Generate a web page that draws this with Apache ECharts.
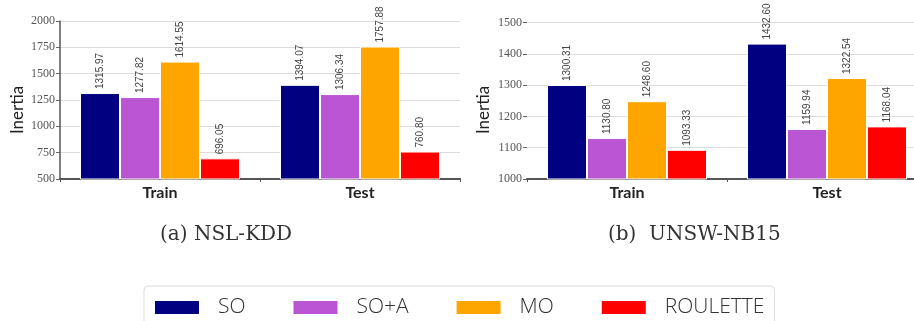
<!DOCTYPE html>
<html>
<head>
<meta charset="utf-8">
<script src="https://cdn.jsdelivr.net/npm/echarts@6/dist/echarts.min.js"></script>
<style>
  html, body { margin: 0; padding: 0; background: #fff; }
  #chart { width: 914px; height: 321px; }
</style>
</head>
<body>
<div id="chart"></div>
<script>
// Mean inertia of the clustering strategies on two intrusion-detection datasets
const categories = ['Train', 'Test'];
const seriesNames = ['SO', 'SO+A', 'MO', 'ROULETTE'];
const seriesColors = ['#000080', '#BA55D3', '#FFA500', '#FF0000'];

// (a) NSL-KDD
const nslSO = [1315.97, 1394.07];
const nslSOA = [1277.82, 1306.34];
const nslMO = [1614.55, 1757.88];
const nslRoulette = [696.05, 760.80];

// (b) UNSW-NB15
const unswSO = [1300.31, 1432.60];
const unswSOA = [1130.80, 1159.94];
const unswMO = [1248.60, 1322.54];
const unswRoulette = [1093.33, 1168.04];

const nslTicks = [500, 750, 1000, 1250, 1500, 1750, 2000];
const unswTicks = [1000, 1100, 1200, 1300, 1400, 1500];

const panels = [
  [nslSO, nslSOA, nslMO, nslRoulette],
  [unswSO, unswSOA, unswMO, unswRoulette]
];

const serifFont = '"Liberation Serif", "DejaVu Serif", serif';

function xAxisFor(gridIndex) {
  return {
    type: 'category',
    gridIndex: gridIndex,
    data: categories,
    axisLine: { show: true, lineStyle: { color: '#555', width: 2 } },
    axisTick: { show: true, length: 3, lineStyle: { color: '#555' } },
    axisLabel: {
      margin: 6,
      fontFamily: 'Lato', fontWeight: 'bold', fontSize: 16, color: '#222'
    }
  };
}

function yAxisFor(gridIndex, ticks, showLine) {
  return {
    type: 'value',
    gridIndex: gridIndex,
    min: ticks[0],
    max: ticks[ticks.length - 1],
    interval: ticks[1] - ticks[0],
    axisLine: { show: showLine, lineStyle: { color: '#555', width: 1.5 } },
    axisTick: { show: true, length: 4, lineStyle: { color: '#666' } },
    axisLabel: {
      margin: 5, fontFamily: serifFont, fontSize: 12, color: '#555',
      formatter: (v) => String(v)
    },
    splitLine: { show: true, lineStyle: { color: '#dcdcdc', width: 1 } }
  };
}

const series = [];
panels.forEach((panel, p) => {
  panel.forEach((values, i) => {
    series.push({
      type: 'bar',
      name: seriesNames[i],
      xAxisIndex: p,
      yAxisIndex: p,
      data: values,
      barGap: '0%',
      barCategoryGap: '20%',
      itemStyle: { color: seriesColors[i], borderColor: '#fff', borderWidth: 1 },
      label: {
        show: true,
        position: 'top',
        rotate: 90,
        align: 'left',
        verticalAlign: 'middle',
        distance: 4,
        fontFamily: '"Liberation Sans", sans-serif',
        fontSize: 10,
        color: '#444',
        formatter: (d) => d.value.toFixed(2)
      }
    });
  });
});

const chart = echarts.init(document.getElementById('chart'), null, { renderer: 'canvas' });
chart.setOption({
  animation: false,
  backgroundColor: '#fff',
  grid: [
    { left: 60, top: 21, width: 400, height: 158, outerBoundsMode: 'none' },
    { left: 527, top: 22.5, width: 400, height: 156.5, outerBoundsMode: 'none' }
  ],
  xAxis: [xAxisFor(0), xAxisFor(1)],
  yAxis: [yAxisFor(0, nslTicks, true), yAxisFor(1, unswTicks, false)],
  legend: {
    data: seriesNames,
    left: 144,
    top: 286,
    icon: 'rect',
    itemWidth: 46,
    itemHeight: 15,
    itemGap: 46,
    padding: [11, 10, 20, 9],
    backgroundColor: '#fff',
    borderColor: '#ddd',
    borderWidth: 1,
    borderRadius: 4,
    textStyle: {
      fontFamily: '"Open Sans", sans-serif',
      fontWeight: 300,
      fontSize: 21,
      color: '#333',
      padding: [0, 0, 0, 13]
    }
  },
  graphic: [
    {
      type: 'text', x: 18, y: 110, rotation: Math.PI / 2,
      style: { text: 'Inertia', font: '17px Lato', fill: '#222', align: 'center', verticalAlign: 'middle' }
    },
    {
      type: 'text', x: 484, y: 110, rotation: Math.PI / 2,
      style: { text: 'Inertia', font: '17px Lato', fill: '#222', align: 'center', verticalAlign: 'middle' }
    },
    {
      type: 'text', x: 160, y: 235,
      style: { text: '(a) NSL-KDD', font: '20px "DejaVu Serif"', fill: '#333', align: 'left', verticalAlign: 'middle' }
    },
    {
      type: 'text', x: 608, y: 235,
      style: { text: '(b)  UNSW-NB15', font: '20px "DejaVu Serif"', fill: '#333', align: 'left', verticalAlign: 'middle' }
    }
  ],
  series: series
});
</script>
</body>
</html>
